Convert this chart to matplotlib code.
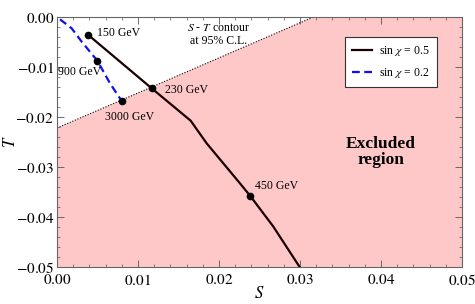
import numpy as np
import matplotlib.pyplot as plt
from matplotlib.ticker import MultipleLocator

plt.rcParams['font.family'] = ['Liberation Serif', 'DejaVu Serif']
plt.rcParams['mathtext.fontset'] = 'stix'

# S-T contour (95% C.L.) boundary, straight in this window
contour_S = [0.0, 0.03165]
contour_T = [-0.0222, 0.0]

# sin chi = 0.5 curve
s05_S = [0.00387, 0.01169, 0.0165, 0.01848, 0.02259, 0.02383, 0.0267, 0.0302]
s05_T = [-0.0036, -0.01426, -0.02073, -0.02527, -0.03327, -0.03573, -0.0419, -0.0506]
s05_pts_S = [0.00387, 0.01169, 0.02383]
s05_pts_T = [-0.0036, -0.01426, -0.03573]
s05_labels = ['150 GeV', '230 GeV', '450 GeV']

# sin chi = 0.2 curve
s02_S = [0.00037, 0.00181, 0.00305, 0.00498, 0.00654, 0.00799]
s02_T = [-0.00046, -0.00226, -0.00494, -0.00874, -0.01326, -0.0168]
s02_pts_S = [0.00498, 0.00799]
s02_pts_T = [-0.00874, -0.0168]
s02_labels = ['900 GeV', '3000 GeV']

# label anchor positions (S, T, ha)
label_pos = {'150 GeV': (0.0049, -0.0032, 'left'),
             '230 GeV': (0.0133, -0.0146, 'left'),
             '450 GeV': (0.0244, -0.0338, 'left'),
             '900 GeV': (0.0001, -0.0110, 'left'),
             '3000 GeV': (0.0089, -0.0200, 'center')}

fig = plt.figure(figsize=(4.75, 3.04), dpi=100)
ax = fig.add_axes([0.12, 0.1217, 0.8526, 0.8223])

# excluded region: below the contour line
x0, x1 = contour_S
y0, y1 = contour_T
ax.fill([x0, x1, 0.05, 0.05, 0.0], [y0, y1, 0.0, -0.05, -0.05],
        color='#ffc8c8', lw=0, zorder=0)
ax.plot(contour_S, contour_T, color='black', lw=0.8, ls=(0, (1, 1.5)), zorder=1)

ax.plot(s05_S, s05_T, color='#1a0000', lw=1.6, label=r'sin $\chi$ = 0.5', zorder=3)
ax.plot(s02_S, s02_T, color='#1010ee', lw=1.6, ls=(0, (3.5, 2)), label=r'sin $\chi$ = 0.2', zorder=3)
ax.plot(s05_pts_S, s05_pts_T, 'o', color='black', ms=4.5, zorder=4)
ax.plot(s02_pts_S, s02_pts_T, 'o', color='black', ms=4.5, zorder=4)

for lab in s05_labels + s02_labels:
    s, t, ha = label_pos[lab]
    ax.text(s, t, lab, fontsize=8.5, ha=ha, va='center')

ax.text(0.0199, -0.0035, '$S$ - $T$ contour\nat 95% C.L.', fontsize=8.5,
        ha='center', va='center', linespacing=1.2)
ax.text(0.0400, -0.0270, 'Excluded\nregion', fontsize=12.5, fontweight='bold',
        ha='center', va='center', linespacing=1.05)

leg = ax.legend(loc='upper right', bbox_to_anchor=(0.938, 0.92), fontsize=8.5,
                frameon=True, fancybox=False, edgecolor='#333333', framealpha=1,
                handlelength=1.7, handletextpad=0.6, borderpad=0.6, labelspacing=0.7,
                borderaxespad=0)
leg.get_frame().set_linewidth(0.8)

ax.set_xlim(0.0, 0.05)
ax.set_ylim(-0.05, 0.0)
ax.xaxis.set_major_locator(MultipleLocator(0.01))
ax.xaxis.set_minor_locator(MultipleLocator(0.002))
ax.yaxis.set_major_locator(MultipleLocator(0.01))
ax.yaxis.set_minor_locator(MultipleLocator(0.002))
ax.xaxis.set_major_formatter(lambda v, p: f'${v:.2f}$')
ax.yaxis.set_major_formatter(lambda v, p: f'${v:.2f}$' if v < -1e-9 else '$0.00$')
ax.tick_params(which='both', direction='in', top=True, right=True, labelsize=11, color='#555555')
ax.tick_params(axis='y', pad=2)
ax.tick_params(axis='x', pad=4.5)
ax.tick_params(which='major', length=5, width=0.6)
ax.tick_params(which='minor', length=2.5, width=0.5)
for sp in ax.spines.values():
    sp.set_color('#666666')
    sp.set_linewidth(0.8)

ax.set_xlabel('$S$', fontsize=12)
ax.xaxis.set_label_coords(0.5, -0.075)
ax.set_ylabel('$T$', fontsize=12)
ax.yaxis.set_label_coords(-0.095, 0.5)

fig.savefig('out.png', dpi=100)
